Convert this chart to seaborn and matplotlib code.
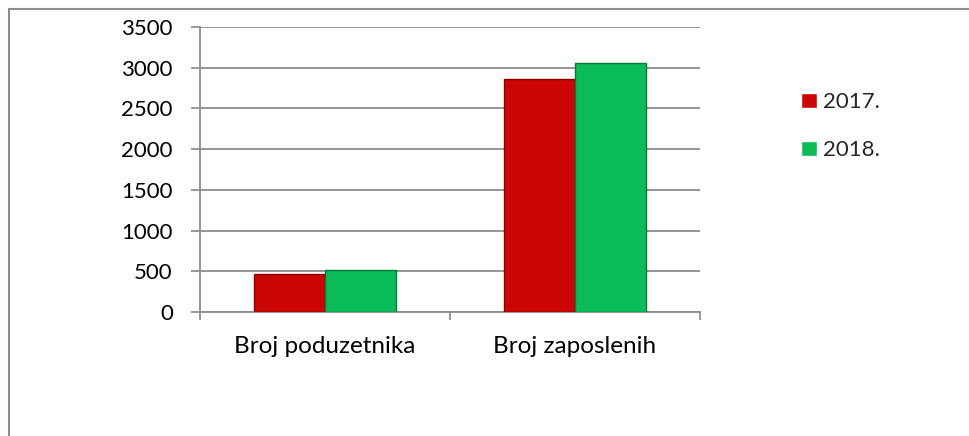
import pandas as pd
import matplotlib.pyplot as plt
import seaborn as sns
from matplotlib.lines import Line2D

categories = ['Broj poduzetnika', 'Broj zaposlenih']
years = ['2017.', '2018.']
values_2017 = [470, 2860]
values_2018 = [512, 3055]
yticks = [0, 500, 1000, 1500, 2000, 2500, 3000, 3500]

df = pd.DataFrame({
    'kategorija': categories * 2,
    'godina': [years[0]] * 2 + [years[1]] * 2,
    'broj': values_2017 + values_2018,
})

sns.set_theme(style='white')
plt.rcParams['font.family'] = ['Lato', 'DejaVu Sans']

fig = plt.figure(figsize=(9.7, 4.36), dpi=100)
ax = fig.add_axes([200/970, 1 - 312/436, 500/970, 285/436])

palette = {'2017.': '#cc0606', '2018.': '#0abb58'}
sns.barplot(data=df, x='kategorija', y='broj', hue='godina', palette=palette,
            width=0.57, gap=0, saturation=1, ax=ax, zorder=3)

edges = {'2017.': '#8a0000', '2018.': '#067a38'}
for cont, yr in zip(ax.containers, years):
    for bar in cont:
        bar.set_edgecolor(edges[yr])
        bar.set_linewidth(1.0)

ax.set_ylim(0, 3500)
ax.set_yticks(yticks)
ax.set_xlim(-0.5, 1.5)
ax.set_xticks([-0.5, 0.5, 1.5], minor=False)
ax.set_xticks([0, 1], minor=True)
ax.set_xticklabels(['', '', ''])
ax.set_xticklabels(categories, minor=True)
ax.tick_params(axis='x', which='major', length=6, width=1.2, color='#888888', direction='out', bottom=True)
ax.tick_params(axis='x', which='minor', length=0, pad=17, labelsize=17.5, labelcolor='black')
ax.tick_params(axis='y', length=6.5, width=1.2, color='#888888', direction='out', left=True,
               pad=13, labelsize=16, labelcolor='black')
ax.set_xlabel('')
ax.set_ylabel('')
ax.yaxis.grid(True, color='#8c8c8c', linewidth=1.3, zorder=0)
ax.set_axisbelow(True)
for s in ['top', 'right']:
    ax.spines[s].set_visible(False)
for s in ['left', 'bottom']:
    ax.spines[s].set_color('#8c8c8c')
    ax.spines[s].set_linewidth(1.3)

handles, labels = ax.get_legend_handles_labels()
ax.legend_.remove()
fig.legend(handles, labels, loc='upper left', bbox_to_anchor=(790/970, 1 - 81/436),
           frameon=False, borderpad=0, handlelength=0.7, handleheight=0.7, handletextpad=0.3,
           labelspacing=1.27, fontsize=16)

fig.add_artist(Line2D([9/970, 1], [1 - 9/436, 1 - 9/436], color='#8c8c8c', linewidth=1.5))
fig.add_artist(Line2D([9/970, 9/970], [0, 1 - 9/436], color='#8c8c8c', linewidth=1.5))

fig.savefig('out.png', dpi=100)
